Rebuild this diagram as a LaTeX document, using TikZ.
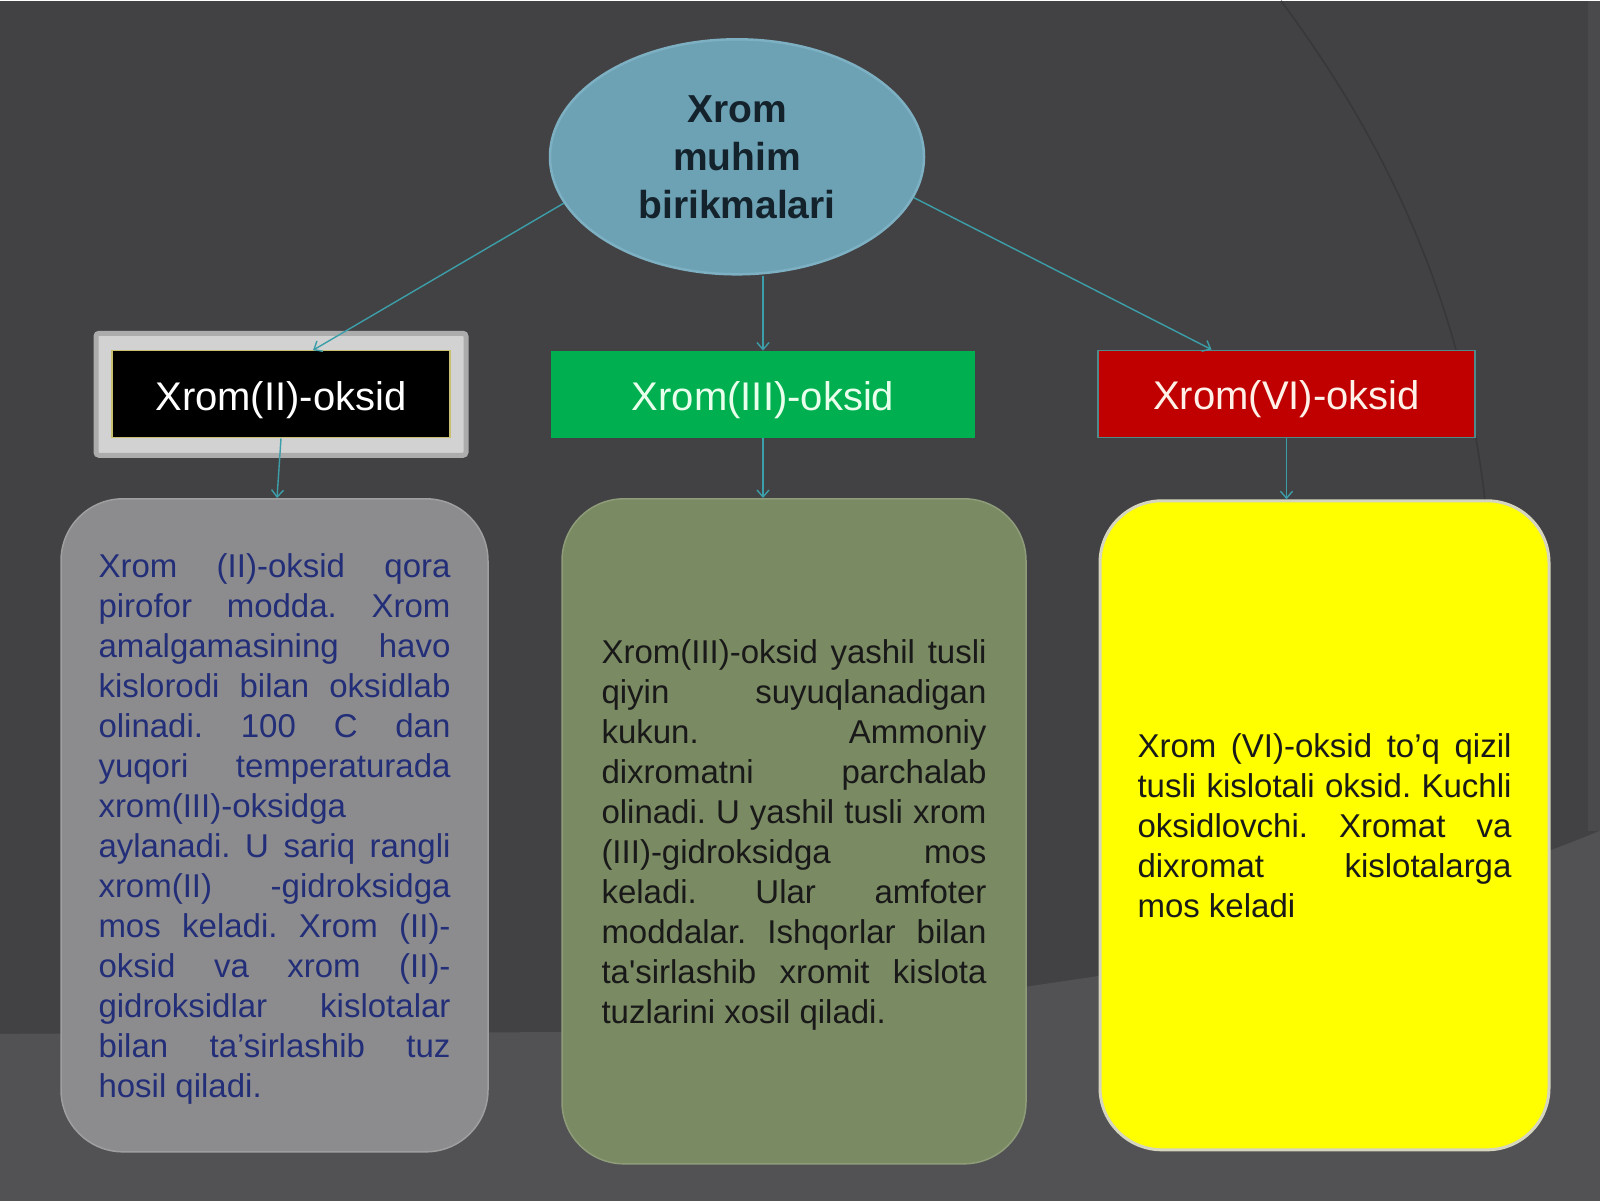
\documentclass[tikz,border=0pt]{standalone}
\usepackage{fontspec}
\setmainfont{Liberation Sans}
\usetikzlibrary{shapes.geometric,arrows.meta}

\definecolor{fon}{HTML}{424244}
\definecolor{fonlight}{HTML}{525254}
\definecolor{fondark}{HTML}{38383A}
\definecolor{fonstrip}{HTML}{4A4A4C}
\definecolor{strelka}{HTML}{3C9EA8}
\definecolor{ellipsfill}{HTML}{6DA2B5}
\definecolor{ellipsdraw}{HTML}{7DB0C2}
\definecolor{sarlavha}{HTML}{14222C}
\definecolor{yashil}{HTML}{00B050}
\definecolor{qizil}{HTML}{C00000}
\definecolor{qizilchet}{HTML}{4F8A8B}
\definecolor{kulrang}{HTML}{8C8C8F}
\definecolor{zaytun}{HTML}{7A8A62}
\definecolor{sariq}{HTML}{FFFF00}
\definecolor{kok}{HTML}{232E78}

\tolerance=10000
\hbadness=10000
\hyphenpenalty=10000
\exhyphenpenalty=10000
\frenchspacing

\begin{document}
\begin{tikzpicture}[x=1pt, y=-1pt,
    arrow/.style={-{Straight Barb[length=7pt,width=12pt]}, strelka, line width=1.4pt},
    header/.style={rectangle, minimum width=#1, minimum height=87pt, inner sep=0pt,
      text height=32pt, text depth=0pt, font=\fontsize{40}{48}\selectfont},
    infobox/.style={rectangle, rounded corners=62pt, minimum height=#1, inner ysep=0pt,
      align=justify, font=\fontsize{33}{40}\selectfont}]
      % Fon
      \fill[fon] (0,0) rectangle (1600,1200);
      \fill[fonlight] (0,1033) -- (1000,1030) -- (1012,988) -- (1100,975)
        .. controls (1300,930) and (1480,880) .. (1600,830) -- (1600,1200) -- (0,1200) -- cycle;
      \fill[fonstrip] (1588,0) rectangle (1600,830);
      \draw[fondark, line width=1.6pt] (1281,0) .. controls (1370,120) and (1460,280) .. (1485,500);
      \useasboundingbox (0,0) rectangle (1600,1200);

      % Ellips
      \node[ellipse, minimum width=374pt, minimum height=235pt, inner sep=0pt,
        fill=ellipsfill, draw=ellipsdraw, line width=2.5pt, text=sarlavha, align=center,
        font=\fontsize{39}{48}\selectfont\bfseries] (title) at (737,156) {Xrom\\muhim\\birikmalari};

      % Oksidlar
      \node[rectangle, minimum width=370pt, minimum height=122pt, rounded corners=3pt,
        fill=gray!35, draw=gray!65, line width=5pt] (ox2frame) at (281,393.5) {};
      \node[header=338pt, fill=black, draw={rgb,255:red,200;green,192;blue,112}, line width=1.2pt,
        text=white] (ox2) at (281,393.5) {Xrom(II)-oksid};
      \node[header=424pt, fill=yashil, text={rgb,255:red,232;green,255;blue,236}] (ox3) at (763,393.5) {Xrom(III)-oksid};
      \node[header=377pt, fill=qizil, draw=qizilchet, line width=1.5pt,
        text={rgb,255:red,255;green,240;blue,232}] (ox6) at (1286.5,393) {Xrom(VI)-oksid};

      % Matnlar
      \node[infobox=653pt, text width=352pt, inner xsep=37.5pt, fill=kulrang, draw=gray!75,
        line width=1.5pt, text=kok] (box2) at (274.5,824.5)
        {\rule{0pt}{32pt}Xrom (II)-oksid qora\linebreak pirofor modda. Xrom\linebreak amalgamasining havo\linebreak
         kislorodi bilan oksidlab\linebreak olinadi. 100 C dan\linebreak yuqori temperaturada\linebreak
         xrom(III)-oksidga\linebreak aylanadi. U sariq rangli\linebreak xrom(II) -gidroksidga\linebreak
         mos keladi. Xrom (II)-\linebreak oksid va xrom (II)-\linebreak gidroksidlar kislotalar\linebreak
         bilan ta’sirlashib tuz\linebreak hosil qiladi.};
      \node[infobox=665pt, text width=385pt, inner xsep=39.5pt, fill=zaytun, draw=zaytun!85!white,
        line width=1.5pt, text=black!90] (box3) at (794,830.5)
        {\rule{0pt}{31pt}Xrom(III)-oksid yashil tusli\linebreak qiyin suyuqlanadigan\linebreak kukun. Ammoniy\linebreak
         dixromatni parchalab\linebreak olinadi. U yashil tusli xrom\linebreak (III)-gidroksidga mos\linebreak
         keladi. Ular amfoter\linebreak moddalar. Ishqorlar bilan\linebreak
         ta\textquotesingle sirlashib xromit kislota\linebreak tuzlarini xosil qiladi.};
      \node[infobox=649pt, text width=374pt, inner xsep=37.5pt, fill=sariq,
        draw={rgb,255:red,214;green,214;blue,190}, line width=3pt, text=black!90] (box6) at (1324.5,824.5)
        {Xrom (VI)-oksid to’q qizil\linebreak tusli kislotali oksid. Kuchli\linebreak
         oksidlovchi. Xromat va\linebreak dixromat kislotalarga\linebreak mos keladi};

      % Strelkalar
      \draw[arrow] (title.195) -- ([xshift=32pt]ox2.north);
      \draw[arrow] (ox3.north |- title.south) -- (ox3.north);
      \draw[arrow] (title.347) -- ([xshift=-75pt]ox6.north);
      \draw[arrow] (ox2.south) -- ([xshift=2.5pt]box2.north);
      \draw[arrow] (ox3.south) -- (ox3.south |- box3.north);
      \draw[arrow] (ox6.south) -- (ox6.south |- box6.north);
    \end{tikzpicture}
\end{document}
